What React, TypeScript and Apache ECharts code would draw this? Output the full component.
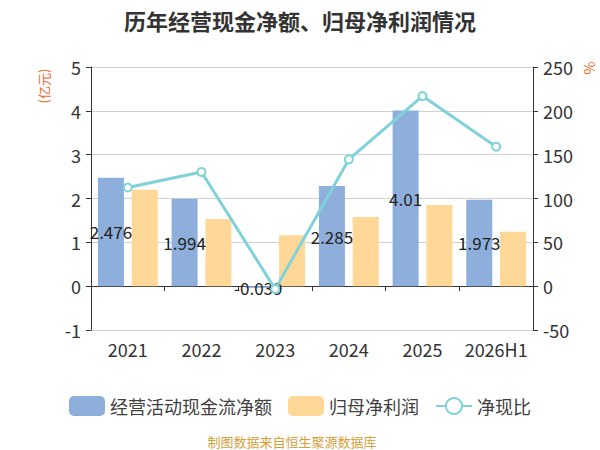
import React, { useEffect, useRef } from "react";
import * as echarts from "echarts";

const categories = ["2021", "2022", "2023", "2024", "2025", "2026H1"];
const cashFlow = [2.476, 1.994, -0.039, 2.285, 4.01, 1.973];
const netProfit = [2.2, 1.53, 1.16, 1.58, 1.85, 1.24];
const ratio = [112.5, 130.3, -3.4, 144.6, 216.8, 159.1];
const seriesNames = ["经营活动现金流净额", "归母净利润", "净现比"];

const FONT = "'Noto Sans CJK SC', 'Noto Sans', sans-serif";

export default function App() {
  const ref = useRef<HTMLDivElement>(null);
  useEffect(() => {
    document.body.style.margin = "0";
    if (!ref.current) return;
    const chart = echarts.init(ref.current, undefined, { renderer: "svg" });
    chart.setOption({
      animation: false,
      backgroundColor: "#ffffff",
      textStyle: { fontFamily: FONT },
      title: {
        text: "历年经营现金净额、归母净利润情况",
        left: "center",
        top: 4,
        textStyle: { fontSize: 22, fontWeight: "bold", color: "#333", fontFamily: FONT },
      },
      grid: { left: 91, right: 67, top: 67, bottom: 120, containLabel: false },
      legend: {
        top: 391,
        left: "center",
        itemWidth: 36,
        itemHeight: 20,
        itemGap: 16,
        textStyle: { fontSize: 18, color: "#404040", fontFamily: FONT },
        data: [
          { name: seriesNames[0], icon: "roundRect" },
          { name: seriesNames[1], icon: "roundRect" },
          { name: seriesNames[2] },
        ],
      },
      xAxis: [
        {
          type: "category",
          data: categories,
          boundaryGap: true,
          position: "bottom",
          axisLine: { show: false, onZero: false },
          axisTick: { show: false },
          axisLabel: { fontSize: 18, color: "#333", margin: 10, interval: 0, fontFamily: FONT },
        },
        {
          type: "category",
          data: categories,
          boundaryGap: true,
          position: "bottom",
          axisLine: { show: true, onZero: true, onZeroAxisIndex: 0, lineStyle: { color: "#333", width: 1 } },
          axisTick: { show: true, length: 5, interval: 0, lineStyle: { color: "#333" } },
          axisLabel: { show: false },
          splitLine: { show: false },
        },
      ],
      yAxis: [
        {
          type: "value",
          min: -1,
          max: 5,
          interval: 1,
          axisLine: { show: true, lineStyle: { color: "#333" } },
          axisTick: { show: true, length: 5, lineStyle: { color: "#333" } },
          axisLabel: { fontSize: 18, color: "#333", margin: 10, fontFamily: FONT },
          splitLine: { show: true, lineStyle: { color: "#d0d0d0" } },
        },
        {
          type: "value",
          min: -50,
          max: 250,
          interval: 50,
          position: "right",
          axisLine: { show: true, lineStyle: { color: "#333" } },
          axisTick: { show: true, length: 5, lineStyle: { color: "#333" } },
          axisLabel: { fontSize: 18, color: "#333", margin: 10, fontFamily: FONT },
          splitLine: { show: false },
        },
      ],
      graphic: [
        {
          type: "text",
          x: 43,
          y: 86,
          rotation: Math.PI / 2,
          style: {
            text: "(亿元)",
            fill: "#e8692e",
            fontSize: 13,
            fontFamily: FONT,
            align: "center",
            verticalAlign: "middle",
          },
        },
        {
          type: "text",
          x: 589,
          y: 68,
          rotation: Math.PI / 2,
          style: {
            text: "%",
            fill: "#e8692e",
            fontSize: 14,
            fontFamily: FONT,
            align: "center",
            verticalAlign: "middle",
          },
        },
        {
          type: "text",
          x: 292,
          y: 441,
          style: {
            text: "制图数据来自恒生聚源数据库",
            fill: "#d4a03a",
            fontSize: 13,
            fontFamily: FONT,
            align: "center",
            verticalAlign: "middle",
          },
        },
      ],
      series: [
        {
          name: seriesNames[0],
          type: "bar",
          xAxisIndex: 0,
          yAxisIndex: 0,
          data: cashFlow,
          barWidth: 26,
          barGap: "30%",
          itemStyle: { color: "#8eaedb" },
          label: {
            show: true,
            position: "inside",
            color: "#222",
            fontSize: 17,
            fontFamily: FONT,
          },
          z: 2,
        },
        {
          name: seriesNames[1],
          type: "bar",
          xAxisIndex: 0,
          yAxisIndex: 0,
          data: netProfit,
          barWidth: 26,
          barGap: "30%",
          itemStyle: { color: "#ffd797" },
          z: 2,
        },
        {
          name: seriesNames[2],
          type: "line",
          xAxisIndex: 0,
          yAxisIndex: 1,
          data: ratio,
          symbol: "circle",
          symbolSize: 8,
          lineStyle: { color: "#7fd2d9", width: 3 },
          itemStyle: { color: "#ffffff", borderColor: "#7fd2d9", borderWidth: 2 },
          z: 3,
        },
      ],
    });
    return () => chart.dispose();
  }, []);
  return <div ref={ref} style={{ width: 600, height: 450 }} />;
}
